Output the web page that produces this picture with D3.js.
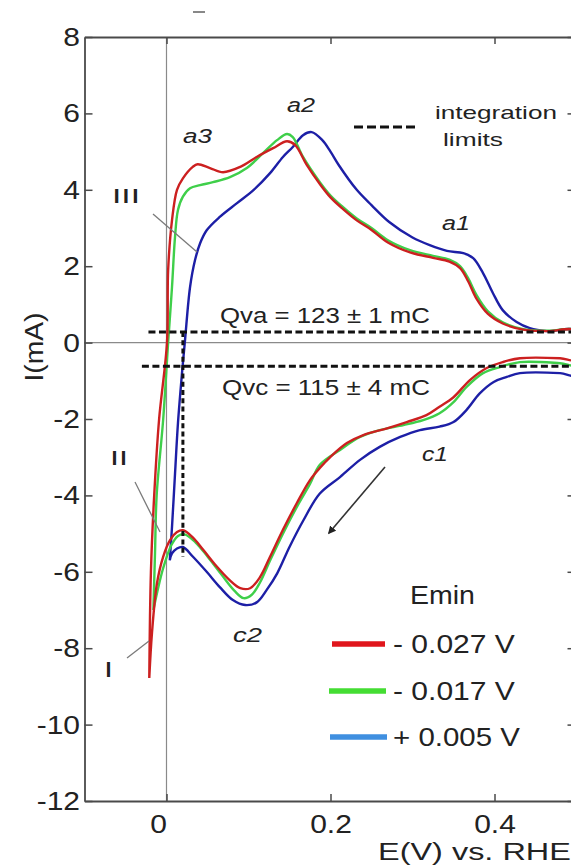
<!DOCTYPE html>
<html><head><meta charset="utf-8">
<script src="https://cdn.jsdelivr.net/npm/d3@7"></script>
<style>
html,body{margin:0;padding:0;background:#fff;}
svg{display:block;}
text{font-family:"Liberation Sans",Arial,Helvetica,sans-serif;fill:#222;}
</style></head><body>
<svg id="chart" width="571" height="866"></svg>
<script>
// ---------- data ----------
const xTickValues = [0, 0.2, 0.4];
const xTickLabels = ["0", "0.2", "0.4"];
const yTickValues = [-12, -10, -8, -6, -4, -2, 0, 2, 4, 6, 8];
const yTickLabels = ["-12", "-10", "-8", "-6", "-4", "-2", "0", "2", "4", "6", "8"];
const legendTitle = "Emin";
const seriesLabels = ["- 0.027 V", "- 0.017 V", "+ 0.005 V"];

// [E (V), I (mA)] anodic sweeps (from Emin upward)
const redAnodic = [[-0.021,-8.78],[-0.019,-6.0],[-0.015,-4.0],[-0.009,-2.0],[0.0006,0],[0.002,1.9],[0.0067,3.2],[0.0128,4.0],[0.02,4.3],[0.032,4.6],[0.038,4.67],[0.053,4.57],[0.069,4.46],[0.09,4.6],[0.11,4.86],[0.13,5.09],[0.147,5.27],[0.157,5.17],[0.171,4.65],[0.187,4.15],[0.2,3.8],[0.215,3.5],[0.232,3.2],[0.25,2.95],[0.27,2.62],[0.297,2.36],[0.325,2.22],[0.345,2.12],[0.358,1.95],[0.368,1.6],[0.378,1.15],[0.392,0.75],[0.41,0.5],[0.435,0.34],[0.464,0.3],[0.5,0.3]];
const greenAnodic = [[-0.016,-7.0],[-0.014,-5.5],[-0.012,-4.0],[-0.004,-2.0],[0.002,0],[0.0067,1.45],[0.0104,2.77],[0.014,3.47],[0.02,3.82],[0.0287,4.04],[0.041,4.12],[0.0567,4.2],[0.0774,4.33],[0.098,4.57],[0.1177,4.96],[0.1348,5.3],[0.147,5.46],[0.154,5.38],[0.1665,4.86],[0.187,4.2],[0.2,3.85],[0.215,3.55],[0.232,3.25],[0.25,3.0],[0.27,2.68],[0.297,2.42],[0.325,2.27],[0.345,2.17],[0.358,2.0],[0.368,1.68],[0.378,1.25],[0.392,0.82],[0.41,0.53],[0.435,0.35],[0.464,0.31],[0.5,0.3]];
const blueAnodic = [[0.004,-5.7],[0.0067,-4.83],[0.0104,-3.43],[0.014,-2.1],[0.0189,-0.8],[0.0226,0.065],[0.0287,1.45],[0.0348,2.16],[0.041,2.6],[0.049,2.94],[0.065,3.29],[0.086,3.65],[0.106,3.99],[0.126,4.43],[0.142,4.86],[0.154,5.12],[0.1665,5.43],[0.177,5.51],[0.19,5.3],[0.2,5.0],[0.21,4.65],[0.232,4.0],[0.25,3.6],[0.272,3.15],[0.3,2.75],[0.321,2.55],[0.342,2.4],[0.362,2.34],[0.374,2.21],[0.386,1.82],[0.398,1.3],[0.41,0.85],[0.427,0.54],[0.443,0.38],[0.464,0.3],[0.5,0.3]];

// cathodic sweeps (from upper vertex back to Emin)
const redCathodic = [[0.5,-0.45],[0.48,-0.41],[0.431,-0.41],[0.41,-0.51],[0.39,-0.67],[0.37,-0.98],[0.35,-1.43],[0.333,-1.68],[0.317,-1.9],[0.293,-2.08],[0.268,-2.25],[0.24,-2.42],[0.22,-2.63],[0.2,-2.99],[0.187,-3.28],[0.175,-3.6],[0.159,-4.2],[0.142,-4.9],[0.126,-5.62],[0.114,-6.14],[0.102,-6.43],[0.09,-6.43],[0.077,-6.22],[0.0616,-5.87],[0.045,-5.43],[0.032,-5.1],[0.02,-4.91],[0.0128,-4.96],[0.0043,-5.17],[-0.004,-5.6],[-0.0116,-6.3],[-0.0177,-7.6],[-0.021,-8.78]];
const greenCathodic = [[0.5,-0.58],[0.48,-0.54],[0.431,-0.51],[0.4067,-0.64],[0.386,-0.8],[0.366,-1.16],[0.35,-1.56],[0.333,-1.85],[0.313,-2.03],[0.289,-2.16],[0.26,-2.29],[0.236,-2.47],[0.2116,-2.81],[0.187,-3.2],[0.175,-3.7],[0.159,-4.3],[0.142,-5.0],[0.126,-5.72],[0.114,-6.28],[0.104,-6.6],[0.094,-6.69],[0.083,-6.5],[0.068,-6.1],[0.05,-5.6],[0.035,-5.22],[0.022,-5.02],[0.014,-5.06],[0.006,-5.3],[-0.004,-5.9],[-0.011,-6.5],[-0.016,-7.0]];
const blueCathodic = [[0.5,-0.85],[0.48,-0.8],[0.431,-0.8],[0.415,-0.9],[0.399,-1.03],[0.382,-1.33],[0.366,-1.76],[0.35,-2.08],[0.333,-2.2],[0.309,-2.29],[0.285,-2.47],[0.26,-2.73],[0.236,-3.07],[0.2116,-3.52],[0.187,-3.95],[0.167,-4.65],[0.15,-5.35],[0.135,-6.04],[0.122,-6.48],[0.11,-6.8],[0.096,-6.87],[0.081,-6.74],[0.065,-6.4],[0.049,-6.0],[0.032,-5.6],[0.02,-5.35],[0.0128,-5.39],[0.0067,-5.52],[0.004,-5.7]];

// integration limits
const qvaLevel = 0.28, qvaStart = -0.022;
const qvcLevel = -0.62, qvcStart = -0.03;
const vLimitE = 0.02, vLimitTop = 0.28, vLimitBottom = -5.6;
const qvaText = "Qva = 123 ± 1 mC";
const qvcText = "Qvc = 115 ± 4 mC";

// ---------- layout ----------
const svg = d3.select("#chart");
const x = d3.scaleLinear().domain([-0.1, 0.5]).range([84.5, 576.5]);
const y = d3.scaleLinear().domain([-12, 8]).range([801, 37]);
const FONT = '"Liberation Sans",Arial,Helvetica,sans-serif';
const SERIF = '"Liberation Serif","Times New Roman",serif';

svg.append("defs").append("clipPath").attr("id","plotclip")
  .append("rect").attr("x",84.5).attr("y",37).attr("width",492).attr("height",764);

// zero lines
svg.append("line").attr("x1",x(0)).attr("x2",x(0)).attr("y1",y(8)).attr("y2",y(-12))
  .attr("stroke","#8a8a8a").attr("stroke-width",1.2);
svg.append("line").attr("x1",x(-0.1)).attr("x2",x(0.5)).attr("y1",y(0)).attr("y2",y(0))
  .attr("stroke","#8a8a8a").attr("stroke-width",1.2);

// axes
const axisColor = "#4a4a4a";
function styleAxis(g){
  g.select(".domain").attr("stroke",axisColor).attr("stroke-width",1.8);
  g.selectAll(".tick line").attr("stroke",axisColor).attr("stroke-width",1.5);
  g.attr("font-size",25).attr("font-family",FONT);
  g.selectAll(".tick text").attr("fill","#222");
}
const gl = svg.append("g").attr("transform",`translate(${x(-0.1)},0)`)
  .call(d3.axisLeft(y).tickValues(yTickValues).tickSizeInner(-8).tickSizeOuter(0).tickPadding(4.5)
        .tickFormat((d,i)=>yTickLabels[i]));
styleAxis(gl);
gl.selectAll(".tick text").attr("x",-4.5/1.2).attr("transform","scale(1.2,1)").attr("dy","0.34em");

const gb = svg.append("g").attr("transform",`translate(0,${y(-12)})`)
  .call(d3.axisBottom(x).tickValues(xTickValues).tickSizeInner(-7).tickSizeOuter(0).tickPadding(14.5)
        .tickFormat((d,i)=>xTickLabels[i]));
styleAxis(gb);
gb.selectAll(".tick text").attr("transform","scale(1.2,1)").attr("dx",(d)=>d===0? -7: 0);

const gt = svg.append("g").attr("transform",`translate(0,${y(8)})`)
  .call(d3.axisTop(x).tickValues(xTickValues).tickSizeInner(-7).tickSizeOuter(0).tickFormat(""));
styleAxis(gt);
const gr = svg.append("g").attr("transform",`translate(${x(0.5)},0)`)
  .call(d3.axisRight(y).tickValues(yTickValues).tickSizeInner(-9).tickSizeOuter(0).tickFormat(""));
styleAxis(gr);

// label helper: stretches text horizontally to a measured width
function lab(str, px, py, o){
  o = o || {};
  const t = svg.append("text").text(str)
    .attr("font-size", o.size || 22)
    .attr("font-family", o.family || FONT)
    .attr("font-style", o.style || "normal")
    .attr("font-weight", o.weight || "normal")
    .attr("text-anchor", o.anchor || "start")
    .attr("fill", o.fill || "#222");
  let sx = 1;
  if (o.width){ const L = t.node().getComputedTextLength(); if (L>0) sx = o.width / L; }
  t.attr("transform", `translate(${px},${py})${o.rotate?` rotate(${o.rotate})`:""} scale(${sx},1)`);
  return t;
}

// curves
const line = d3.line().x(d=>x(d[0])).y(d=>y(d[1])).curve(d3.curveCatmullRom.alpha(0.5));
const plot = svg.append("g").attr("clip-path","url(#plotclip)");
const curveSeries = [
  {anodic: blueAnodic, cathodic: blueCathodic, color: "#1d1fa6"},
  {anodic: greenAnodic, cathodic: greenCathodic, color: "#3fcf4a"},
  {anodic: redAnodic, cathodic: redCathodic, color: "#cc2020"}
];
curveSeries.forEach(s=>{
  plot.append("path").attr("d", line(s.anodic.concat(s.cathodic)))
    .attr("fill","none").attr("stroke",s.color).attr("stroke-width",2.4)
    .attr("stroke-linejoin","round");
});

// integration limits (dashed)
plot.append("line").attr("x1",x(qvaStart)).attr("x2",x(0.5)).attr("y1",y(qvaLevel)).attr("y2",y(qvaLevel))
  .attr("stroke","#111").attr("stroke-width",3).attr("stroke-dasharray","7,3.5");
plot.append("line").attr("x1",x(qvcStart)).attr("x2",x(0.5)).attr("y1",y(qvcLevel)).attr("y2",y(qvcLevel))
  .attr("stroke","#111").attr("stroke-width",3).attr("stroke-dasharray","7,3.5");
plot.append("line").attr("x1",x(vLimitE)).attr("x2",x(vLimitE)).attr("y1",y(vLimitTop)).attr("y2",y(vLimitBottom))
  .attr("stroke","#111").attr("stroke-width",3).attr("stroke-dasharray","5,3.3");

// legend for integration limits
svg.append("line").attr("x1",354).attr("x2",415).attr("y1",127).attr("y2",127)
  .attr("stroke","#111").attr("stroke-width",3).attr("stroke-dasharray","9,4");
lab("integration", 435, 119, {size:19, width:122});
lab("limits", 443, 146, {size:19, width:60});

// peak labels
lab("a3", 183, 143, {size:21, width:29, style:"italic"});
lab("a2", 287, 112, {size:21, width:28, style:"italic"});
lab("a1", 442, 230, {size:21, width:28, style:"italic"});
lab("c1", 422, 461, {size:21, width:26, style:"italic"});
lab("c2", 233, 642, {size:21, width:29, style:"italic"});
lab(qvaText, 220, 323, {size:22, width:210});
lab(qvcText, 222, 395, {size:22, width:208});

// roman numerals + leader lines
const leaderColor = "#7a7a7a";
[[153,214,197,252],[135,482,160,532],[127,658,149,641]].forEach(l=>{
  svg.append("line").attr("x1",l[0]).attr("y1",l[1]).attr("x2",l[2]).attr("y2",l[3])
    .attr("stroke",leaderColor).attr("stroke-width",1.3);
});
lab("III", 112, 203, {size:21, width:28, family:SERIF});
lab("II", 110, 465, {size:21, width:18, family:SERIF});
lab("I", 104, 677, {size:22, width:9, family:SERIF});

// sweep direction arrow
svg.append("defs").append("marker").attr("id","arrowhead").attr("viewBox","0 0 10 10")
  .attr("refX",8).attr("refY",5).attr("markerWidth",5).attr("markerHeight",5).attr("orient","auto")
  .append("path").attr("d","M0,0 L10,5 L0,10 z").attr("fill","#222");
svg.append("line").attr("x1",385).attr("y1",467).attr("x2",329).attr("y2",533)
  .attr("stroke","#333").attr("stroke-width",1.6).attr("marker-end","url(#arrowhead)");

// legend
const legendColors = ["#e0161c", "#44dd33", "#3f8fe0"];
const legendRows = [
  {y:644, x1:332, x2:385, base:653, w:122},
  {y:691, x1:329, x2:386, base:700, w:122},
  {y:737, x1:330, x2:387, base:746, w:127}
];
lab(legendTitle, 410, 604, {size:25, width:65});
seriesLabels.forEach((s,i)=>{
  const r = legendRows[i];
  svg.append("line").attr("x1",r.x1).attr("x2",r.x2).attr("y1",r.y).attr("y2",r.y)
    .attr("stroke",legendColors[i]).attr("stroke-width",5.5);
  lab(s, 393, r.base, {size:25, width:r.w});
});

// axis titles
lab("I(mA)", 43, 347, {size:25, anchor:"middle", rotate:-90, width:69});
lab("E(V) vs. RHE", 378, 860, {size:24, width:193});

// small stray mark at top of the figure
svg.append("line").attr("x1",193).attr("x2",205).attr("y1",12).attr("y2",12)
  .attr("stroke","#888").attr("stroke-width",2);
</script>
</body></html>
